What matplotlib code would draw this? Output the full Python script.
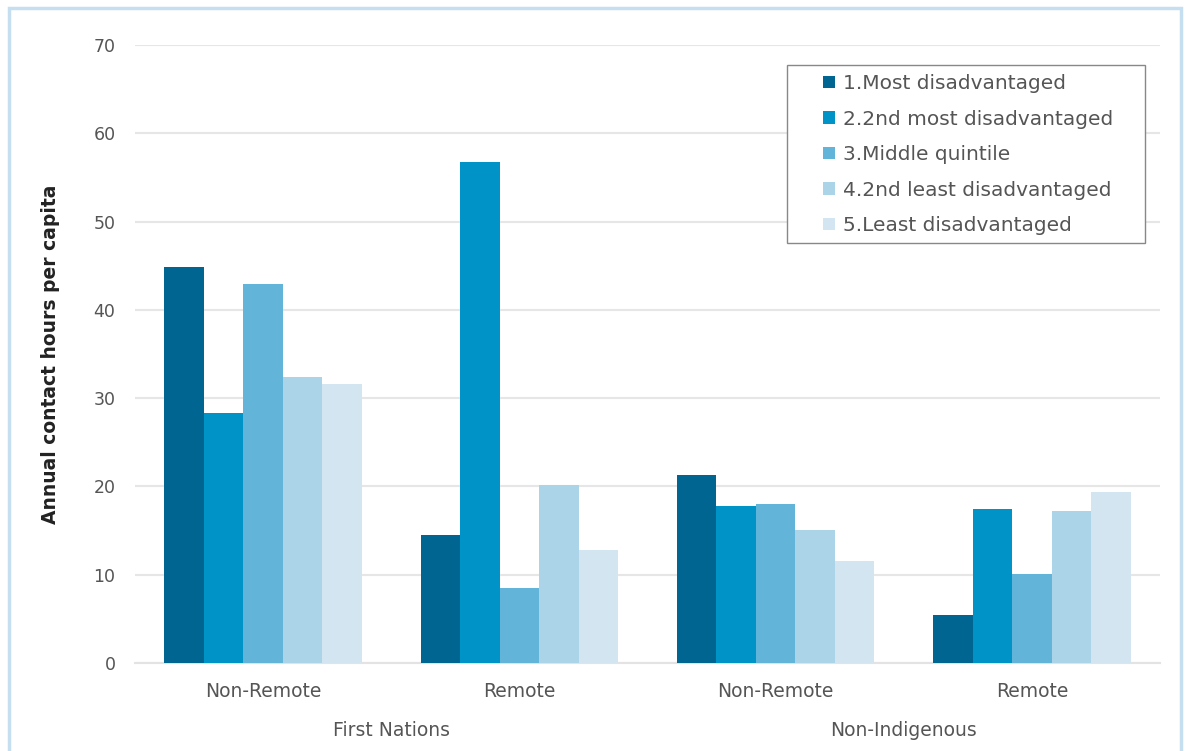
import matplotlib.pyplot as plt
from matplotlib.patches import Rectangle
import numpy as np

categories = ['Non-Remote', 'Remote', 'Non-Remote', 'Remote']
groups = ['First Nations', 'Non-Indigenous']
quintiles = ['1.Most disadvantaged', '2.2nd most disadvantaged', '3.Middle quintile',
             '4.2nd least disadvantaged', '5.Least disadvantaged']

# values per quintile, across the 4 categories
q1 = [44.8, 14.5, 21.3, 5.4]
q2 = [28.3, 56.8, 17.8, 17.4]
q3 = [42.9, 8.5, 18.0, 10.1]
q4 = [32.4, 20.2, 15.1, 17.2]
q5 = [31.6, 12.8, 11.6, 19.4]
series = [q1, q2, q3, q4, q5]

colors = ['#006590', '#0093c8', '#62b4d9', '#abd4e9', '#d2e5f0']
W, H = 1186, 751

plt.rcParams['font.family'] = ['DejaVu Sans']

fig = plt.figure(figsize=(W / 100, H / 100), dpi=100)
ax = fig.add_axes([135 / W, 1 - 663 / H, 1025 / W, 618 / H])

x = np.arange(len(categories))
w = 0.77 / 5
for i, vals in enumerate(series):
    ax.bar(x - 0.385 + w * (i + 0.5), vals, width=w, color=colors[i], label=quintiles[i], zorder=3)

ax.set_xlim(-0.5, 3.5)
ax.set_ylim(0, 70)
ax.set_yticks(range(0, 71, 10))
ax.yaxis.grid(True, color='#e6e6e6', linewidth=1.5, zorder=0)
for s in ['top', 'right', 'left']:
    ax.spines[s].set_visible(False)
ax.spines['bottom'].set_color('#e3e3e3')
ax.spines['bottom'].set_linewidth(1.5)
ax.tick_params(axis='both', length=0, labelcolor='#555555')
ax.tick_params(axis='y', pad=14, labelsize=12.5)
ax.tick_params(axis='x', pad=14, labelsize=13.5)
ax.set_xticks(x)
ax.set_xticklabels(categories)

for j, g in enumerate(groups):
    ax.text(0.5 + 2 * j, -0.11, g, transform=ax.get_xaxis_transform(), ha='center', va='center',
            fontsize=13.5, color='#555555')

ax.set_ylabel('Annual contact hours per capita', fontsize=13.5, fontweight='bold', color='#222222', labelpad=24)

leg = ax.legend(loc='upper left', bbox_to_anchor=(823 / W, 1 - 74 / H), bbox_transform=fig.transFigure,
                frameon=False, fontsize=14.5, labelcolor='#555555', handlelength=0.6, handleheight=0.6,
                handletextpad=0.4, labelspacing=0.82, borderpad=0, borderaxespad=0)
leg.set_zorder(5)
ax.add_patch(Rectangle((787 / W, 1 - 243 / H), (1145 - 787) / W, (243 - 65) / H, transform=fig.transFigure,
                       facecolor='white', edgecolor='#888888', linewidth=1.0, zorder=4))

fig.patches.append(Rectangle((9 / W, -0.05), 1172 / W, 1.05 - 8 / H, transform=fig.transFigure,
                             fill=False, edgecolor='#c5dff0', linewidth=2.5))

fig.savefig('out.png', dpi=100)
